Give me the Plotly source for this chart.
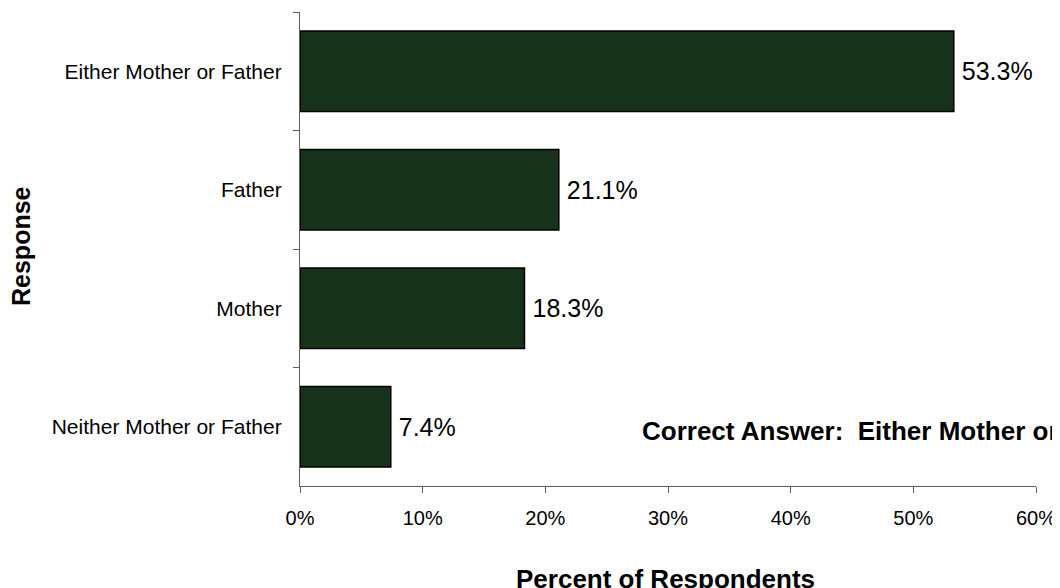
import plotly.graph_objects as go

categories = ["Either Mother or Father", "Father", "Mother", "Neither Mother or Father"]
values = [53.3, 21.1, 18.3, 7.4]
tick_vals = [0, 10, 20, 30, 40, 50, 60]
tick_text = ["0%", "10%", "20%", "30%", "40%", "50%", "60%"]
x_title = "Percent of Respondents"
y_title = "Response"
note = "Correct Answer:\u00a0\u00a0Either Mother or Father"

FONT = "Liberation Sans, Arial, sans-serif"
BAR = "#17321b"
AXIS = "#606060"

fig = go.Figure()
fig.add_trace(go.Bar(
    y=categories, x=values, orientation="h",
    marker=dict(color=BAR, line=dict(color="#000000", width=1.5)),
    text=[f"\u2009{v:.1f}%" for v in values],
    textposition="outside",
    textfont=dict(family=FONT, size=25, color="#000000"),
    cliponaxis=False,
    width=0.68,
))

fig.update_layout(
    width=1060, height=588,
    margin=dict(l=292, r=32, t=4, b=110),
    paper_bgcolor="white", plot_bgcolor="white",
    showlegend=False,
    font=dict(family=FONT, color="#000000"),
    xaxis=dict(
        range=[0, 60], tickvals=tick_vals, ticktext=tick_text,
        showgrid=False, zeroline=False,
        showline=True, linecolor=AXIS, linewidth=1.3,
        ticks="outside", ticklen=6, tickcolor=AXIS, tickwidth=1.3,
        tickfont=dict(family=FONT, size=20, color="#000000"),
        ticklabelstandoff=8,
        automargin=False,
    ),
    yaxis=dict(
        autorange="reversed", type="category",
        showgrid=False, zeroline=False,
        showline=True, linecolor=AXIS, linewidth=1.3,
        ticks="outside", ticklen=6, tickcolor=AXIS, tickwidth=1.3,
        tickson="boundaries",
        tickfont=dict(family=FONT, size=21, color="#000000"),
        ticklabelstandoff=13,
        automargin=False,
    ),
    annotations=[
        dict(text=f"<b>{y_title}</b>", xref="paper", yref="paper", x=0, y=0.5,
             xanchor="center", yanchor="middle", xshift=-279, yshift=3,
             textangle=-90, showarrow=False,
             font=dict(family=FONT, size=25, color="#000000")),
        dict(text=f"<b>{x_title}</b>", xref="paper", yref="paper", x=0.5, y=0,
             xanchor="center", yanchor="middle", xshift=-3, yshift=-93,
             showarrow=False,
             font=dict(family=FONT, size=26, color="#000000")),
        dict(text=f"<b>{note}</b>", xref="paper", yref="paper", x=0, y=0,
             xanchor="left", yanchor="middle", xshift=340, yshift=55,
             showarrow=False,
             font=dict(family=FONT, size=26, color="#000000")),
    ],
)

fig.write_html("out.html")
